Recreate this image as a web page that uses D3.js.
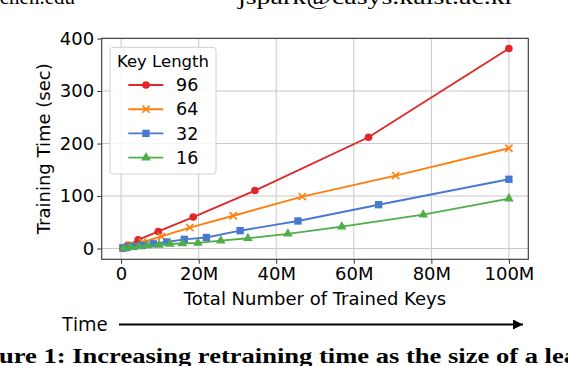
<!DOCTYPE html>
<html lang="en">
<head>
  <meta charset="utf-8">
  <title>Training time vs trained keys</title>
  <script src="https://d3js.org/d3.v7.min.js"></script>
  <style>
    body { margin: 0; background: #fff; }
    svg text { font-family: "DejaVu Sans", sans-serif; fill: #000; }
  </style>
</head>
<body>
  <div id="chart"></div>
  <script>
    "use strict"

    // valores (x em milhoes de chaves, y em segundos)
    var keyLengths = ["96", "64", "32", "16"];
    var x96 = [0.5, 1.8, 4.4, 9.6, 18.6, 34.5, 63.8, 100];
    var y96 = [1, 6, 16.5, 32.5, 60, 110.5, 212, 381];
    var x64 = [0.5, 2.5, 5.5, 10.4, 17.7, 28.9, 46.7, 70.8, 100];
    var y64 = [1, 5, 12, 23, 40, 62.5, 99, 139, 191];
    var x32 = [0.5, 1.5, 3.3, 5.5, 8.3, 11.8, 16.3, 22, 30.7, 45.6, 66.4, 100];
    var y32 = [1, 2, 4, 6, 9, 12.5, 17.5, 21, 34, 52.5, 83.5, 132];
    var x16 = [0.7, 2.4, 4.5, 6.8, 9.8, 12.6, 15.8, 19.8, 25.7, 32.7, 43, 56.9, 77.9, 100];
    var y16 = [1, 2.5, 4, 5.7, 7, 8.9, 9.5, 10.8, 15, 19.5, 28, 41.7, 64.5, 95];
    var xTicks = [0, 20, 40, 60, 80, 100];
    var xTickLabels = ["0", "20M", "40M", "60M", "80M", "100M"];
    var yTicks = [0, 100, 200, 300, 400];

    var cores = ["#e0282a", "#ff7f0e", "#4878d0", "#4dae4a"];
    var simbolos = [d3.symbolCircle, "x", d3.symbolSquare, d3.symbolTriangle];
    var series = [[x96, y96], [x64, y64], [x32, y32], [x16, y16]].map(function(s, i) {
      return { nome: keyLengths[i], cor: cores[i], simbolo: simbolos[i],
               pontos: s[0].map(function(v, j) { return { x: v, y: s[1][j] }; }) };
    });

    var largura = 568, altura = 366;
    var area = { left: 101.7, right: 528.3, top: 38.3, bottom: 259.3 };

    var svg = d3.select("#chart").append("svg")
      .attr("width", largura).attr("height", altura);

    // textos do artigo que aparecem cortados na imagem
    svg.append("text").attr("x", 75).attr("y", 4).attr("text-anchor", "end")
      .style("font-family", "Liberation Serif").style("font-size", "21px")
      .text("chen.edu");
    svg.append("text").attr("x", 238).attr("y", 4)
      .attr("textLength", 276).attr("lengthAdjust", "spacingAndGlyphs")
      .style("font-family", "Liberation Serif").style("font-size", "21px")
      .text("jspark@casys.kaist.ac.kr");

    var x = d3.scaleLinear().domain([-5, 105]).range([area.left, area.right]);
    var y = d3.scaleLinear().domain([-20.5, 400.5]).range([area.bottom, area.top]);

    var g = svg.append("g");

    // grade
    g.selectAll(".gx").data(xTicks).enter().append("line")
      .attr("x1", function(d) { return x(d); }).attr("x2", function(d) { return x(d); })
      .attr("y1", area.top).attr("y2", area.bottom)
      .attr("stroke", "#c8c8c8").attr("stroke-width", 1);
    g.selectAll(".gy").data(yTicks).enter().append("line")
      .attr("y1", function(d) { return y(d); }).attr("y2", function(d) { return y(d); })
      .attr("x1", area.left).attr("x2", area.right)
      .attr("stroke", "#c8c8c8").attr("stroke-width", 1);

    // eixos
    var eixoX = g.append("g").attr("transform", "translate(0," + area.bottom + ")")
      .call(d3.axisBottom(x).tickValues(xTicks)
        .tickFormat(function(d, i) { return xTickLabels[i]; })
        .tickSize(4.5).tickPadding(3));
    var eixoY = g.append("g").attr("transform", "translate(" + area.left + ",0)")
      .call(d3.axisLeft(y).tickValues(yTicks).tickSize(4.5).tickPadding(3));
    [eixoX, eixoY].forEach(function(e) {
      e.select(".domain").remove();
      e.selectAll("line").attr("stroke", "#333").attr("stroke-width", 1);
      e.selectAll("text").style("font-family", "DejaVu Sans").style("font-size", "18px")
        .attr("fill", "#000");
    });

    g.append("rect").attr("x", area.left).attr("y", area.top)
      .attr("width", area.right - area.left).attr("height", area.bottom - area.top)
      .attr("fill", "none").attr("stroke", "#333").attr("stroke-width", 1.1);

    // linhas e marcadores
    var linha = d3.line().x(function(d) { return x(d.x); }).y(function(d) { return y(d.y); });

    function desenhaMarcador(sel, s, tam) {
      if (s.simbolo === "x") {
        var r = tam;
        sel.append("path")
          .attr("d", "M" + (-r) + "," + (-r) + "L" + r + "," + r + "M" + (-r) + "," + r + "L" + r + "," + (-r))
          .attr("stroke", s.cor).attr("stroke-width", 1.6).attr("fill", "none");
      } else {
        var area0 = s.simbolo === d3.symbolCircle ? 46 : (s.simbolo === d3.symbolSquare ? 54 : 40);
        sel.append("path").attr("d", d3.symbol().type(s.simbolo).size(area0)())
          .attr("fill", s.cor);
      }
    }

    series.forEach(function(s) {
      var sg = g.append("g");
      sg.append("path").datum(s.pontos).attr("d", linha)
        .attr("fill", "none").attr("stroke", s.cor).attr("stroke-width", 1.9);
      sg.selectAll("g.m").data(s.pontos).enter().append("g")
        .attr("transform", function(d) { return "translate(" + x(d.x) + "," + y(d.y) + ")"; })
        .each(function() { desenhaMarcador(d3.select(this), s, 3.6); });
    });

    // legenda
    var leg = svg.append("g");
    leg.append("rect").attr("x", 110).attr("y", 47.3).attr("width", 106).attr("height", 126.7)
      .attr("rx", 3).attr("fill", "#fff").attr("fill-opacity", 0.85)
      .attr("stroke", "#d0d0d0").attr("stroke-width", 1);
    leg.append("text").attr("x", 163).attr("y", 67).attr("text-anchor", "middle")
      .style("font-size", "16.5px").text("Key Length");
    series.forEach(function(s, i) {
      var ly = 85 + i * 24.2;
      leg.append("line").attr("x1", 128.3).attr("x2", 163.3).attr("y1", ly).attr("y2", ly)
        .attr("stroke", s.cor).attr("stroke-width", 1.9);
      var m = leg.append("g").attr("transform", "translate(146," + ly + ")");
      desenhaMarcador(m, s, 3.6);
      leg.append("text").attr("x", 176).attr("y", ly + 6.2)
        .style("font-size", "17.5px").text(s.nome);
    });

    // rotulos dos eixos
    svg.append("text").attr("transform", "translate(50," + ((area.top + area.bottom) / 2) + ") rotate(-90)")
      .attr("text-anchor", "middle").style("font-size", "18px").text("Training Time (sec)");
    svg.append("text").attr("x", (area.left + area.right) / 2).attr("y", 304.5)
      .attr("text-anchor", "middle").style("font-size", "18px").text("Total Number of Trained Keys");

    // seta de tempo
    svg.append("defs").append("marker").attr("id", "seta")
      .attr("viewBox", "0 0 10 10").attr("refX", 10).attr("refY", 5)
      .attr("markerWidth", 10).attr("markerHeight", 10).attr("markerUnits", "userSpaceOnUse")
      .attr("orient", "auto")
      .append("path").attr("d", "M0,0L10,5L0,10z").attr("fill", "#000");
    svg.append("text").attr("x", 62).attr("y", 331)
      .style("font-family", "Open Sans").style("font-size", "20px").text("Time");
    svg.append("line").attr("x1", 119).attr("x2", 523).attr("y1", 324.5).attr("y2", 324.5)
      .attr("stroke", "#000").attr("stroke-width", 2.2).attr("marker-end", "url(#seta)");

    // legenda da figura (cortada)
    svg.append("text").attr("x", -1).attr("y", 363)
      .attr("textLength", 578).attr("lengthAdjust", "spacingAndGlyphs")
      .style("font-family", "Liberation Serif").style("font-weight", "bold").style("font-size", "20px")
      .text("ure 1: Increasing retraining time as the size of a lea");
  </script>
</body>
</html>
